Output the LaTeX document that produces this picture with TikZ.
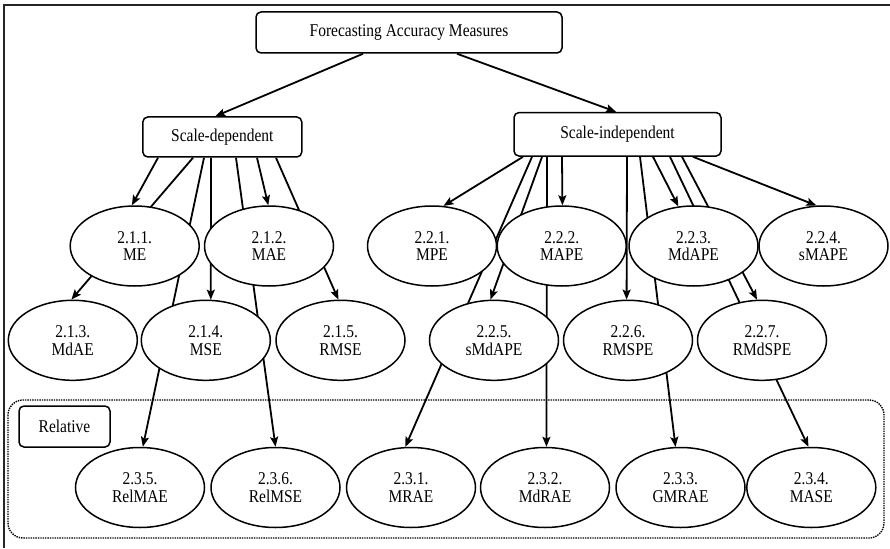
\documentclass[tikz,border=0pt]{standalone}
\usepackage{fontspec}
\setmainfont{Liberation Serif}[FakeStretch=0.86]
\usetikzlibrary{arrows.meta,shapes.geometric}
\pgfdeclarelayer{background}
\pgfsetlayers{background,main}
\begin{document}
\begin{tikzpicture}[x=1pt,y=-1pt,
  every node/.style={font=\fontsize{18}{17.7}\selectfont},
  meas/.style={ellipse, draw, line width=1.5pt, fill=white, minimum width=129pt, minimum height=80pt, inner sep=0pt, align=center},
  grp/.style={draw, rounded corners=5pt, line width=1.5pt, fill=white, inner sep=0pt},
  arr/.style={line width=1.8pt, -{Stealth[length=10pt,width=8pt,inset=2pt]}},
  frame/.style={line width=2pt, draw=black!85},
  relframe/.style={densely dotted, line width=1.4pt, rounded corners=15pt}]
\useasboundingbox (0,0) rectangle (890,548);

% group boxes
\node[grp, minimum width=306pt, minimum height=41pt] (top) at (409,32.5) {Forecasting Accuracy Measures};
\node[grp, minimum width=159pt, minimum height=40pt] (sd) at (222.3,137) {Scale-dependent};
\node[grp, minimum width=207pt, minimum height=43.5pt] (si) at (617.5,134.3) {Scale-independent};
\node[grp, minimum width=91pt, minimum height=41pt] (rel) at (64.5,426.5) {Relative};

% row 1
\node[meas] (me)    at (134.7,246) {2.1.1.\\ME};
\node[meas] (mae)   at (269,246)   {2.1.2.\\MAE};
\node[meas] (mpe)   at (432,246)   {2.2.1.\\MPE};
\node[meas] (mape)  at (561.7,246) {2.2.2.\\MAPE};
\node[meas] (mdape) at (693.5,246) {2.2.3.\\MdAPE};
\node[meas] (smape) at (823.5,246) {2.2.4.\\sMAPE};
% row 2
\node[meas] (mdae)   at (72.8,340.3)  {2.1.3.\\MdAE};
\node[meas] (mse)    at (205.8,340.3) {2.1.4.\\MSE};
\node[meas] (rmse)   at (340.5,340.3) {2.1.5.\\RMSE};
\node[meas] (smdape) at (494,340.3)   {2.2.5.\\sMdAPE};
\node[meas] (rmspe)  at (628,340.3)   {2.2.6.\\RMSPE};
\node[meas] (rmdspe) at (762,340.3)   {2.2.7.\\RMdSPE};
% row 3
\node[meas] (relmae) at (140,487.5)   {2.3.5.\\RelMAE};
\node[meas] (relmse) at (275.5,487.5) {2.3.6.\\RelMSE};
\node[meas] (mrae)   at (411,487.5)   {2.3.1.\\MRAE};
\node[meas] (mdrae)  at (545,487.5)   {2.3.2.\\MdRAE};
\node[meas] (gmrae)  at (680.5,487.5) {2.3.3.\\GMRAE};
\node[meas] (mase)   at (811.3,487.5) {2.3.4.\\MASE};

\begin{pgfonlayer}{background}
\draw[frame] (3.5,548) -- (3.5,5.5) -- (890,5.5);
\draw[relframe] (8,400) rectangle (884,538);

\draw[arr] ([xshift=-46pt]top.south) -- ([xshift=-7pt]sd.north);
\draw[arr] ([xshift=48pt]top.south) -- ([xshift=-1.5pt]si.north);

\draw[arr] ([xshift=-64.3pt]sd.south) -- (me.94);
\draw[arr] ([xshift=-29.3pt]sd.south) -- (mdae.92);
\draw[arr] ([xshift=-18.3pt]sd.south) -- (relmae.86);
\draw[arr] ([xshift=-11.3pt]sd.south) -- (mse.83);
\draw[arr] ([xshift=13.7pt]sd.south) -- (relmse.90);
\draw[arr] ([xshift=34.7pt]sd.south) -- (mae.91);
\draw[arr] ([xshift=53.7pt]sd.south) -- (rmse.93);

\draw[arr] ([xshift=-94.5pt]si.south) -- (mpe.74);
\draw[arr] ([xshift=-85.5pt]si.south) -- (mrae.98);
\draw[arr] ([xshift=-75.5pt]si.south) -- (smdape.95);
\draw[arr] ([xshift=-70.5pt]si.south) -- (mdrae.88);
\draw[arr] ([xshift=-55.5pt]si.south) -- (mape.89);
\draw[arr] ([xshift=9.5pt]si.south) -- (rmspe.92);
\draw[arr] ([xshift=22.5pt]si.south) -- (gmrae.97);
\draw[arr] ([xshift=35.5pt]si.south) -- (mdape.111);
\draw[arr] ([xshift=52.5pt]si.south) -- (mase.94);
\draw[arr] ([xshift=64.5pt]si.south) -- (rmdspe.97);
\draw[arr] ([xshift=75.5pt]si.south) -- (smape.100);
\end{pgfonlayer}
\end{tikzpicture}
\end{document}
